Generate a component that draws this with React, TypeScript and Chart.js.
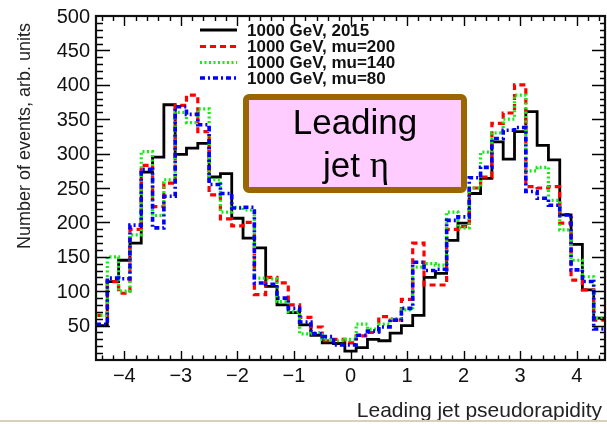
import { useEffect, useRef } from "react";
import { Chart, registerables } from "chart.js";

Chart.register(...registerables);

// Bin centres (bin width 0.2) of the leading jet pseudorapidity histogram
const binCenters = [
  -4.4, -4.2, -4.0, -3.8, -3.6, -3.4, -3.2, -3.0, -2.8, -2.6, -2.4, -2.2, -2.0, -1.8, -1.6,
  -1.4, -1.2, -1.0, -0.8, -0.6, -0.4, -0.2, 0.0, 0.2, 0.4, 0.6, 0.8, 1.0, 1.2, 1.4,
  1.6, 1.8, 2.0, 2.2, 2.4, 2.6, 2.8, 3.0, 3.2, 3.4, 3.6, 3.8, 4.0, 4.2, 4.4,
];
const binWidth = 0.2;

const hist2015 = [
  50, 114, 145, 170, 273, 295, 371, 299, 308, 315, 266, 271, 206, 177, 163,
  107, 80, 69, 51, 36, 25, 24, 13, 18, 30, 28, 39, 50, 65, 120,
  126, 174, 199, 242, 264, 317, 292, 332, 361, 312, 291, 211, 168, 102, 61,
];
const histMu200 = [
  65, 114, 97, 190, 283, 223, 257, 370, 385, 332, 240, 205, 195, 200, 95,
  120, 112, 80, 62, 48, 28, 30, 25, 35, 40, 63, 58, 88, 170, 109,
  109, 190, 194, 250, 266, 344, 359, 400, 252, 250, 252, 199, 116, 102, 58,
];
const histMu140 = [
  65, 150, 100, 182, 303, 210, 262, 360, 345, 365, 262, 215, 222, 218, 119,
  118, 85, 70, 38, 40, 30, 28, 30, 52, 45, 52, 60, 73, 135, 140,
  138, 215, 192, 250, 302, 330, 350, 385, 275, 280, 232, 189, 145, 121, 61,
];
const histMu80 = [
  52, 119, 118, 196, 277, 192, 238, 368, 357, 342, 255, 242, 221, 222, 112,
  110, 90, 75, 55, 38, 34, 22, 22, 36, 42, 48, 58, 75, 142, 130,
  132, 203, 208, 265, 280, 322, 334, 338, 245, 235, 225, 211, 131, 114, 45,
];

const seriesLabels = ["1000 GeV, 2015", "1000 GeV, mu=200", "1000 GeV, mu=140", "1000 GeV, mu=80"];
const xTickValues = [-4, -3, -2, -1, 0, 1, 2, 3, 4];
const yTickValues = [50, 100, 150, 200, 250, 300, 350, 400, 450, 500];
const xTitle = "Leading jet pseudorapidity";
const yTitle = "Number of events, arb. units";
const boxLine1 = "Leading";
const boxLine2a = "jet ";
const boxLine2b = "η";

const SANS = '"Liberation Sans", Arial, Helvetica, sans-serif';
const SERIF = '"Liberation Serif", "DejaVu Serif", serif';

function toSteps(values: number[]) {
  const pts = values.map((v, i) => ({ x: binCenters[i] - binWidth / 2, y: v }));
  const last = binCenters.length - 1;
  pts.push({ x: binCenters[last] + binWidth / 2, y: values[last] });
  return pts;
}

const styles = [
  { color: "#000000", width: 2.8, dash: [] as number[] },
  { color: "#ff0000", width: 3.2, dash: [6, 4] },
  { color: "#11ee11", width: 3.2, dash: [2, 2.5] },
  { color: "#0000ff", width: 3.6, dash: [5, 3, 2, 3] },
];

const rootPlugin = {
  id: "rootFrame",
  afterDatasetsDraw(chart: any) {
    const { ctx, chartArea: a, scales } = chart;
    const xs = scales.x;
    const ys = scales.y;
    ctx.save();

    // ticks
    ctx.strokeStyle = "#000";
    ctx.lineWidth = 1.4;
    ctx.beginPath();
    for (let k = -22; k <= 22; k++) {
      const v = k * 0.2;
      const px = Math.round(xs.getPixelForValue(v)) + 0.5;
      const major = k % 5 === 0;
      const lb = major ? 9 : 4.5;
      const lt = major ? 10 : 5;
      ctx.moveTo(px, a.bottom);
      ctx.lineTo(px, a.bottom - lb);
      ctx.moveTo(px, a.top);
      ctx.lineTo(px, a.top + lt);
    }
    for (let v = 10; v < 500; v += 10) {
      const py = Math.round(ys.getPixelForValue(v)) + 0.5;
      const major = v % 50 === 0;
      const ll = major ? 14 : 7;
      const lr = major ? 13 : 5;
      ctx.moveTo(a.left, py);
      ctx.lineTo(a.left + ll, py);
      ctx.moveTo(a.right, py);
      ctx.lineTo(a.right - lr, py);
    }
    ctx.stroke();

    // frame
    ctx.lineWidth = 2.2;
    ctx.strokeStyle = "#111";
    ctx.strokeRect(a.left, a.top, a.right - a.left, a.bottom - a.top);

    // tick labels
    ctx.fillStyle = "#111";
    ctx.font = `20px ${SANS}`;
    ctx.textAlign = "right";
    ctx.textBaseline = "middle";
    for (const v of yTickValues) {
      ctx.fillText(String(v), a.left - 6, ys.getPixelForValue(v) + 1);
    }
    ctx.textAlign = "center";
    ctx.textBaseline = "top";
    for (const v of xTickValues) {
      const label = v < 0 ? "\u2212" + Math.abs(v) : String(v);
      ctx.fillText(label, xs.getPixelForValue(v), a.bottom + 6);
    }

    // axis titles
    ctx.font = `21px ${SANS}`;
    ctx.textAlign = "right";
    ctx.textBaseline = "alphabetic";
    ctx.fillStyle = "#222";
    ctx.fillText(xTitle, a.right - 3, 417);

    ctx.save();
    ctx.translate(30, 136);
    ctx.rotate(-Math.PI / 2);
    ctx.font = `18px ${SANS}`;
    ctx.textAlign = "center";
    ctx.textBaseline = "alphabetic";
    ctx.fillText(yTitle, 0, 0);
    ctx.restore();

    // legend
    const rows = [30, 46.5, 62.5, 78];
    ctx.font = `bold 17px ${SANS}`;
    ctx.textAlign = "left";
    ctx.textBaseline = "middle";
    seriesLabels.forEach((lab, i) => {
      const s = styles[i];
      ctx.save();
      ctx.strokeStyle = s.color;
      ctx.lineWidth = s.width;
      ctx.setLineDash(s.dash);
      ctx.beginPath();
      ctx.moveTo(200, rows[i]);
      ctx.lineTo(237, rows[i]);
      ctx.stroke();
      ctx.restore();
      ctx.fillStyle = "#111";
      ctx.fillText(lab, 247, rows[i] + 1);
    });

    // label box
    ctx.save();
    ctx.fillStyle = "#ffccff";
    ctx.strokeStyle = "#996600";
    ctx.lineWidth = 6;
    ctx.beginPath();
    (ctx as any).roundRect(246, 97, 218, 93, 3);
    ctx.fill();
    ctx.stroke();
    ctx.restore();

    ctx.fillStyle = "#000";
    ctx.textBaseline = "alphabetic";
    ctx.textAlign = "center";
    ctx.font = `35px ${SANS}`;
    ctx.fillText(boxLine1, 355, 134);
    ctx.textAlign = "left";
    const w1 = ctx.measureText(boxLine2a).width;
    ctx.font = `37px ${SERIF}`;
    const w2 = ctx.measureText(boxLine2b).width;
    const x0 = 356 - (w1 + w2) / 2;
    ctx.font = `35px ${SANS}`;
    ctx.fillText(boxLine2a, x0, 177);
    ctx.font = `37px ${SERIF}`;
    ctx.fillText(boxLine2b, x0 + w1, 177);

    // bottom separator line
    ctx.fillStyle = "#d8d0bc";
    ctx.fillRect(0, 420, 607, 2);

    ctx.restore();
  },
};

export default function App() {
  const canvasRef = useRef<HTMLCanvasElement | null>(null);

  useEffect(() => {
    const canvas = canvasRef.current;
    if (!canvas) return;
    const all = [hist2015, histMu200, histMu140, histMu80];
    const chart = new Chart(canvas, {
      type: "line",
      data: {
        datasets: all.map((vals, i) => ({
          label: seriesLabels[i],
          data: toSteps(vals),
          borderColor: styles[i].color,
          borderWidth: styles[i].width,
          borderDash: styles[i].dash,
          stepped: "before" as const,
          fill: false,
          pointRadius: 0,
          order: 4 - i,
        })),
      },
      options: {
        animation: false,
        responsive: false,
        maintainAspectRatio: false,
        layout: { padding: { left: 96, right: 2, top: 16, bottom: 64 } },
        scales: {
          x: { type: "linear", min: -4.5, max: 4.5, display: false },
          y: { type: "linear", min: 0, max: 500, display: false },
        },
        plugins: { legend: { display: false }, tooltip: { enabled: false } },
        elements: { point: { radius: 0 }, line: { tension: 0 } },
      },
      plugins: [rootPlugin],
    });
    return () => chart.destroy();
  }, []);

  return (
    <div style={{ position: "fixed", left: 0, top: 0, width: 607, height: 424, background: "#fff" }}>
      <canvas ref={canvasRef} width={607} height={424} style={{ display: "block" }} />
    </div>
  );
}
